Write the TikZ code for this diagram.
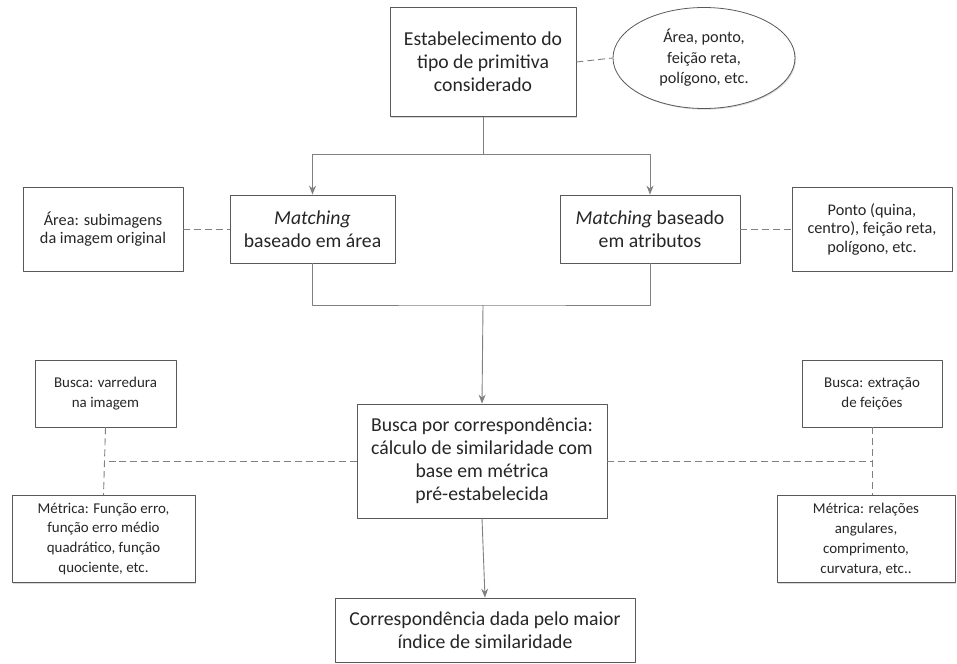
\documentclass[tikz,border=0pt]{standalone}
\usepackage{fontspec}
\setmainfont{Carlito}
\usetikzlibrary{shapes.geometric,shadows,arrows.meta}
\tikzset{
  caixa/.style={draw=black!65,fill=white,line width=0.8pt,align=center,text=black!85,inner sep=2pt,
    drop shadow={shadow xshift=1pt,shadow yshift=-1.2pt,opacity=0.3}},
  grande/.style={caixa,font=\fontsize{19.8}{23}\selectfont},
  media/.style={caixa,font=\fontsize{16.3}{18.6}\selectfont},
  pequena/.style={caixa,font=\fontsize{15}{20}\selectfont},
  liga/.style={draw=black!50,line width=0.9pt},
  tracejado/.style={liga,dash pattern=on 7pt off 4pt},
}
\begin{document}
\begin{tikzpicture}[x=1bp,y=-1bp,>={Stealth[length=9pt,width=7pt]},line join=round,line cap=butt]
	\useasboundingbox (0,0) rectangle (957,664);
	% linha de cima
	\node[grande,minimum width=186bp,minimum height=109bp] (tipo) at (483,62) {Estabelecimento do\\tipo de primitiva\\considerado};
	\node[media,ellipse,inner sep=0pt,minimum width=182bp,minimum height=101bp,font=\fontsize{16.3}{20.5}\selectfont] (elip) at (704,58) {Área, ponto,\\feição reta,\\polígono, etc.};
	% tipos de matching
	\node[media,minimum width=160bp,minimum height=84bp] (area) at (103,229) {Área: subimagens\\da imagem original};
	\node[grande,minimum width=165bp,minimum height=68bp] (marea) at (312.5,229) {\textit{Matching}\\baseado em área};
	\node[grande,minimum width=180bp,minimum height=68bp] (matrib) at (650,229) {\textit{Matching} baseado\\em atributos};
	\node[media,minimum width=160bp,minimum height=84bp] (ponto) at (872,229) {Ponto (quina,\\centro), feição reta,\\polígono, etc.};
	% busca
	\node[grande,minimum width=250bp,minimum height=114bp] (busca) at (482,461) {Busca por correspondência:\\cálculo de similaridade com\\base em métrica\\pré-estabelecida};
	\node[pequena,minimum width=141bp,minimum height=67bp] (varre) at (105.5,393.5) {Busca: varredura\\na imagem};
	\node[pequena,minimum width=183bp,minimum height=87bp] (metesq) at (103.5,539) {Métrica: Função erro,\\função erro médio\\quadrático, função\\quociente, etc.};
	\node[pequena,minimum width=140bp,minimum height=67bp] (extr) at (872,393.5) {Busca: extração\\de feições};
	\node[pequena,minimum width=178bp,minimum height=87bp] (metdir) at (866,539) {Métrica: relações\\angulares,\\comprimento,\\curvatura, etc..};
	\node[grande,minimum width=300bp,minimum height=64bp] (fim) at (485,630) {Correspondência dada pelo maior\\índice de similaridade};
	% ligacoes
	\coordinate (ramo) at (483,154);
	\coordinate (junta) at (483,305);
	\draw[tracejado] (tipo.east) -- (elip.west);
	\draw[liga] (tipo.south) -- (ramo);
	\draw[liga,->] (ramo) -| (marea.north);
	\draw[liga,->] (ramo) -| (matrib.north);
	\draw[tracejado] (area.east) -- (marea.west);
	\draw[tracejado] (matrib.east) -- (ponto.west);
	\draw[liga] (marea.south) |- (junta) -| (matrib.south);
	\draw[liga,->] (junta) -- (busca.north);
	\draw[tracejado] (varre.south) -- (metesq.north);
	\draw[tracejado] (busca.west) -- (varre.south |- busca.west);
	\draw[tracejado] (extr.south) -- (extr.south |- metdir.north);
	\draw[tracejado] (busca.east) -- (extr.south |- busca.east);
	\draw[liga,->] (busca.south) -- (fim.north);
\end{tikzpicture}
\end{document}
